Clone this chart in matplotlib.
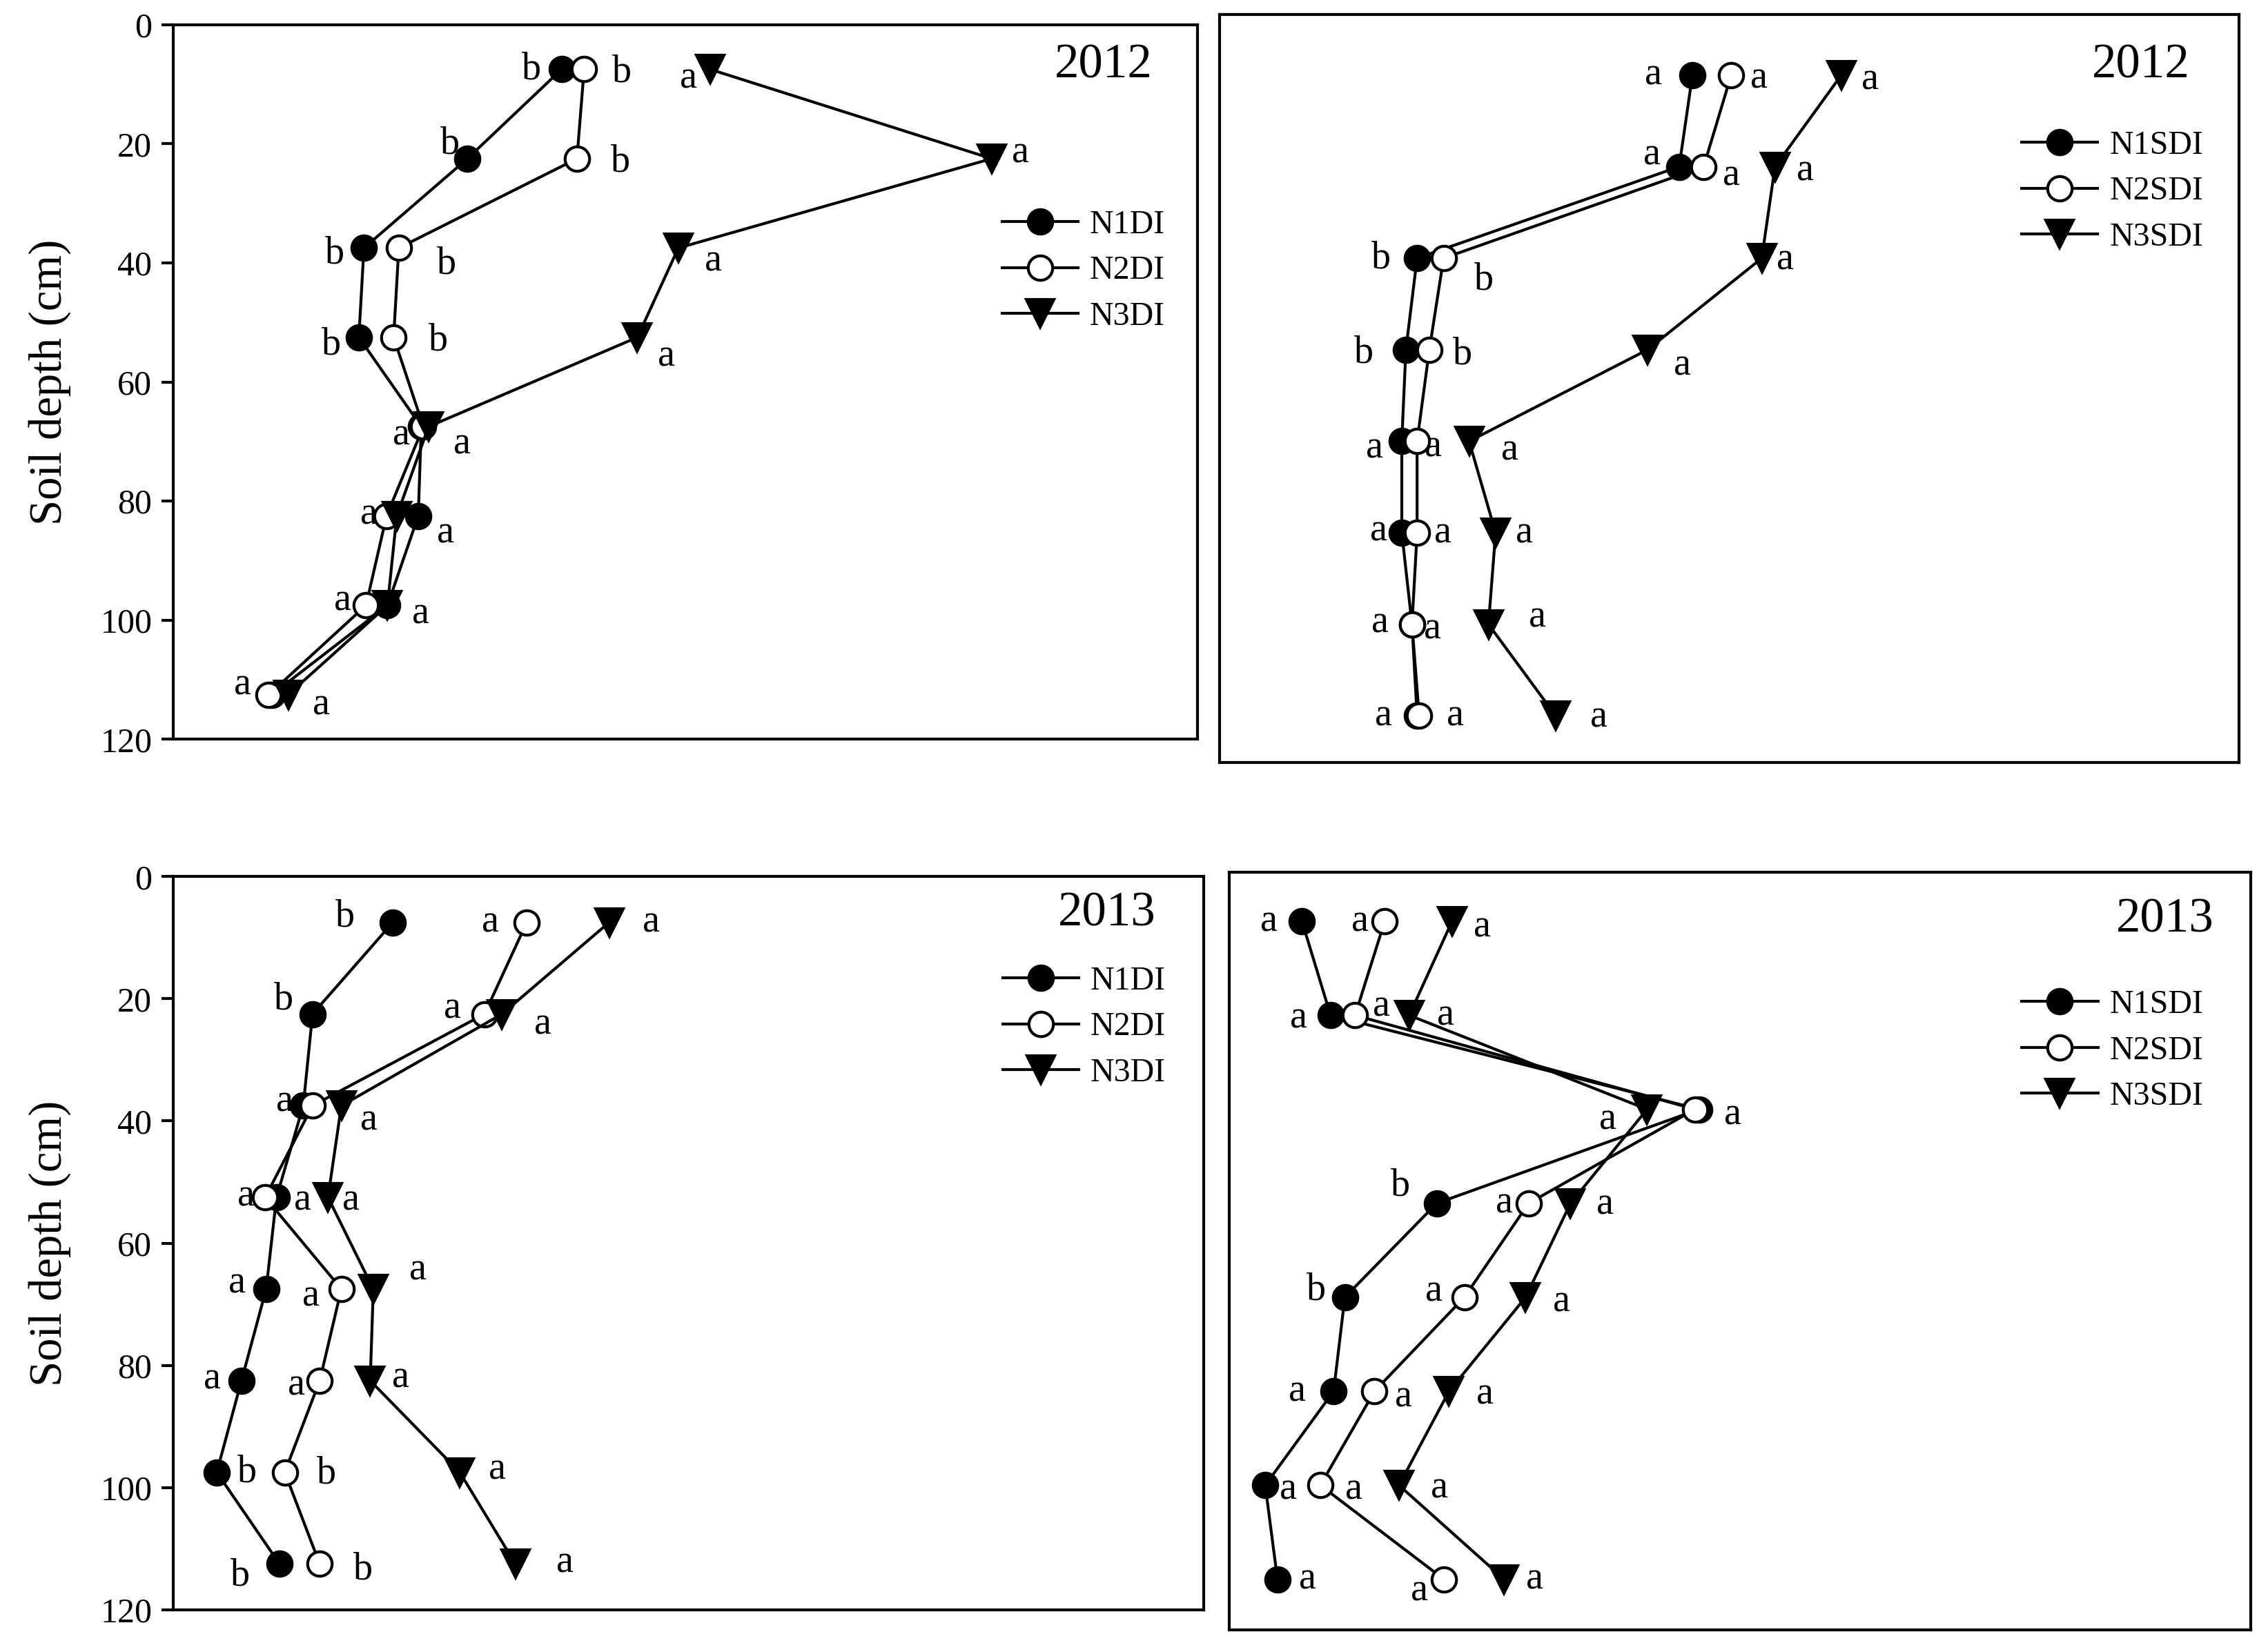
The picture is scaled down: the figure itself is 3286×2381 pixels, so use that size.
import matplotlib
matplotlib.use('Agg')
import matplotlib.pyplot as plt

plt.rcParams['font.family'] = ['Liberation Serif', 'DejaVu Serif']

# Du lieu: do sau lop dat (cm)
depth = [7.5, 22.5, 37.5, 52.5, 67.5, 82.5, 97.5, 112.5]

# Gia tri tuong doi (khong co truc x) - DI 2012
di12_n1 = [37.9, 28.7, 18.6, 18.1, 24.2, 23.9, 20.9, 9.6]
di12_n2 = [40.1, 39.4, 22.0, 21.5, 24.4, 20.8, 18.8, 9.3]
di12_n3 = [52.4, 79.9, 49.3, 45.3, 24.9, 21.8, 20.9, 11.2]
di12_n1_let = ['b', 'b', 'b', 'b', '', 'a', '', '']
di12_n2_let = ['b', 'b', 'b', 'b', 'a', 'a', 'a', 'a']
di12_n3_let = ['a', 'a', 'a', 'a', 'a', '', 'a', 'a']

# SDI 2012
sdi12_n1 = [46.4, 45.1, 19.4, 18.3, 17.9, 17.9, 18.9, 19.4]
sdi12_n2 = [50.2, 47.5, 22.0, 20.6, 19.4, 19.4, 18.9, 19.6]
sdi12_n3 = [61.0, 54.5, 53.2, 42.0, 24.5, 27.1, 26.4, 33.0]
sdi12_n1_let = ['a', 'a', 'b', 'b', 'a', 'a', 'a', 'a']
sdi12_n2_let = ['a', 'a', 'b', 'b', 'a', 'a', 'a', 'a']
sdi12_n3_let = ['a', 'a', 'a', 'a', 'a', 'a', 'a', 'a']

# DI 2013
di13_n1 = [21.3, 13.5, 12.6, 10.0, 9.0, 6.6, 4.2, 10.3]
di13_n2 = [34.3, 30.2, 13.5, 8.9, 16.3, 14.2, 10.8, 14.2]
di13_n3 = [42.3, 31.9, 16.3, 15.0, 19.4, 19.1, 27.8, 33.2]
di13_n1_let = ['b', 'b', 'a', 'a', 'a', 'a', 'b', 'b']
di13_n2_let = ['a', 'a', '', 'a', 'a', 'a', 'b', 'b']
di13_n3_let = ['a', 'a', 'a', 'a', 'a', 'a', 'a', 'a']

# SDI 2013
sdi13_n1 = [7.1, 9.9, 46.0, 20.3, 11.3, 10.2, 3.5, 4.7]
sdi13_n2 = [15.2, 12.3, 45.6, 29.3, 23.0, 14.2, 8.9, 21.0]
sdi13_n3 = [21.8, 17.6, 40.9, 33.4, 29.0, 21.5, 16.6, 26.9]
sdi13_n1_let = ['a', 'a', '', 'b', 'b', 'a', 'a', 'a']
sdi13_n2_let = ['a', 'a', 'a', 'a', 'a', 'a', 'a', 'a']
sdi13_n3_let = ['a', 'a', 'a', 'a', 'a', 'a', 'a', 'a']

# Vi tri chu cai (do lech, don vi pixel anh thu nho)
off_di12 = [
    [(-21, 0), (-12, -10), (-20, 4), (-19, 5), (0, 0), (19, 12), (0, 0), (0, 0)],
    [(26, 2), (30, 2), (33, 11), (31, 2), (-15, 6), (-12, -1), (-16, -3), (-18, -7)],
    [(-15, 6), (20, -4), (24, 9), (20, 13), (23, 12), (0, 0), (23, 6), (23, 7)],
]
off_sdi12 = [
    [(-27, 0), (-19, -8), (-25, 0), (-29, 2), (-19, 5), (-16, -1), (-22, -1), (-23, 0)],
    [(19, 2), (19, 6), (28, 15), (23, 3), (11, 4), (18, 0), (14, 3), (25, 0)],
    [(20, 3), (21, 3), (16, 1), (24, 11), (28, 6), (20, 0), (34, -5), (30, 1)],
]
off_di13 = [
    [(-33, -4), (-20, -10), (-13, -3), (18, 2), (-20, -4), (-20, -1), (21, 0), (-27, 8)],
    [(-25, 0), (-22, -4), (0, 0), (-13, -1), (-21, 5), (-16, 3), (29, 1), (30, 4)],
    [(29, 0), (28, 7), (19, 10), (16, 2), (31, -13), (21, -2), (26, -2), (34, -1)],
]
off_sdi13 = [
    [(-23, 0), (-22, 2), (0, 0), (-25, -12), (-20, -5), (-25, 0), (16, 3), (21, 0)],
    [(-17, 0), (18, -6), (26, 4), (-17, 0), (-21, -4), (20, 4), (23, 3), (-17, 8)],
    [(21, 4), (25, 0), (-27, 7), (24, 1), (25, 3), (25, 2), (28, 2), (21, 0)],
]

fig = plt.figure(figsize=(3286 / 300, 2381 / 300), dpi=300)


def ve_panel(rect, series, letters, offsets, names, year, ylim, year_pos, leg_pos, left_axis):
    ax = fig.add_axes(rect)
    styles = [dict(marker='o', mfc='black'), dict(marker='o', mfc='white'),
              dict(marker='v', mfc='black')]
    for vals, st, name in zip(series, styles, names):
        ax.plot(vals, depth, color='black', lw=1.0, mec='black', mew=1.0,
                ms=8.5 if st['marker'] == 'o' else 9.5, label=name, **st)
    for vals, lets, offs in zip(series, letters, offsets):
        for x, d, t, (dx, dy) in zip(vals, depth, lets, offs):
            if t:
                ax.annotate(t, (x, d), xytext=(dx * 0.503, -dy * 0.503),
                            textcoords='offset points', ha='center', va='center',
                            fontsize=13.5)
    ax.set_xlim(0, 100)
    ax.set_ylim(*ylim)
    ax.set_xticks([])
    for s in ax.spines.values():
        s.set_linewidth(1.0)
    if left_axis:
        ax.set_yticks([0, 20, 40, 60, 80, 100, 120])
        ax.tick_params(axis='y', direction='out', length=4, width=1.0, labelsize=12)
        ax.set_ylabel('Soil depth (cm)', fontsize=16, labelpad=10)
    else:
        ax.set_yticks([])
    ax.text(year_pos[0], year_pos[1], year, transform=ax.transAxes,
            ha='center', va='center', fontsize=17)
    ax.legend(loc='upper left', bbox_to_anchor=leg_pos, frameon=False, fontsize=11.5,
              borderpad=0, borderaxespad=0, handlelength=2.3, handletextpad=0.35,
              labelspacing=0.47)
    return ax


ve_panel([0.0765, 0.550, 0.4515, 0.435],
         [di12_n1, di12_n2, di12_n3], [di12_n1_let, di12_n2_let, di12_n3_let], off_di12,
         ['N1DI', 'N2DI', 'N3DI'], '2012', (120, 0), (0.908, 0.943), (0.809, 0.741), True)

ve_panel([0.5376, 0.5361, 0.4496, 0.4551],
         [sdi12_n1, sdi12_n2, sdi12_n3], [sdi12_n1_let, sdi12_n2_let, sdi12_n3_let], off_sdi12,
         ['N1SDI', 'N2SDI', 'N3SDI'], '2012', (120.1, -2.45), (0.904, 0.932), (0.787, 0.845), False)

ve_panel([0.0765, 0.0202, 0.4541, 0.4463],
         [di13_n1, di13_n2, di13_n3], [di13_n1_let, di13_n2_let, di13_n3_let], off_di13,
         ['N1DI', 'N2DI', 'N3DI'], '2013', (120, 0), (0.906, 0.949), (0.805, 0.878), True)

ve_panel([0.5421, 0.0079, 0.4502, 0.4613],
         [sdi13_n1, sdi13_n2, sdi13_n3], [sdi13_n1_let, sdi13_n2_let, sdi13_n3_let], off_sdi13,
         ['N1SDI', 'N2SDI', 'N3SDI'], '2013', (120.6, -0.35), (0.916, 0.937), (0.776, 0.845), False)

fig.savefig('out.png', dpi=300)
